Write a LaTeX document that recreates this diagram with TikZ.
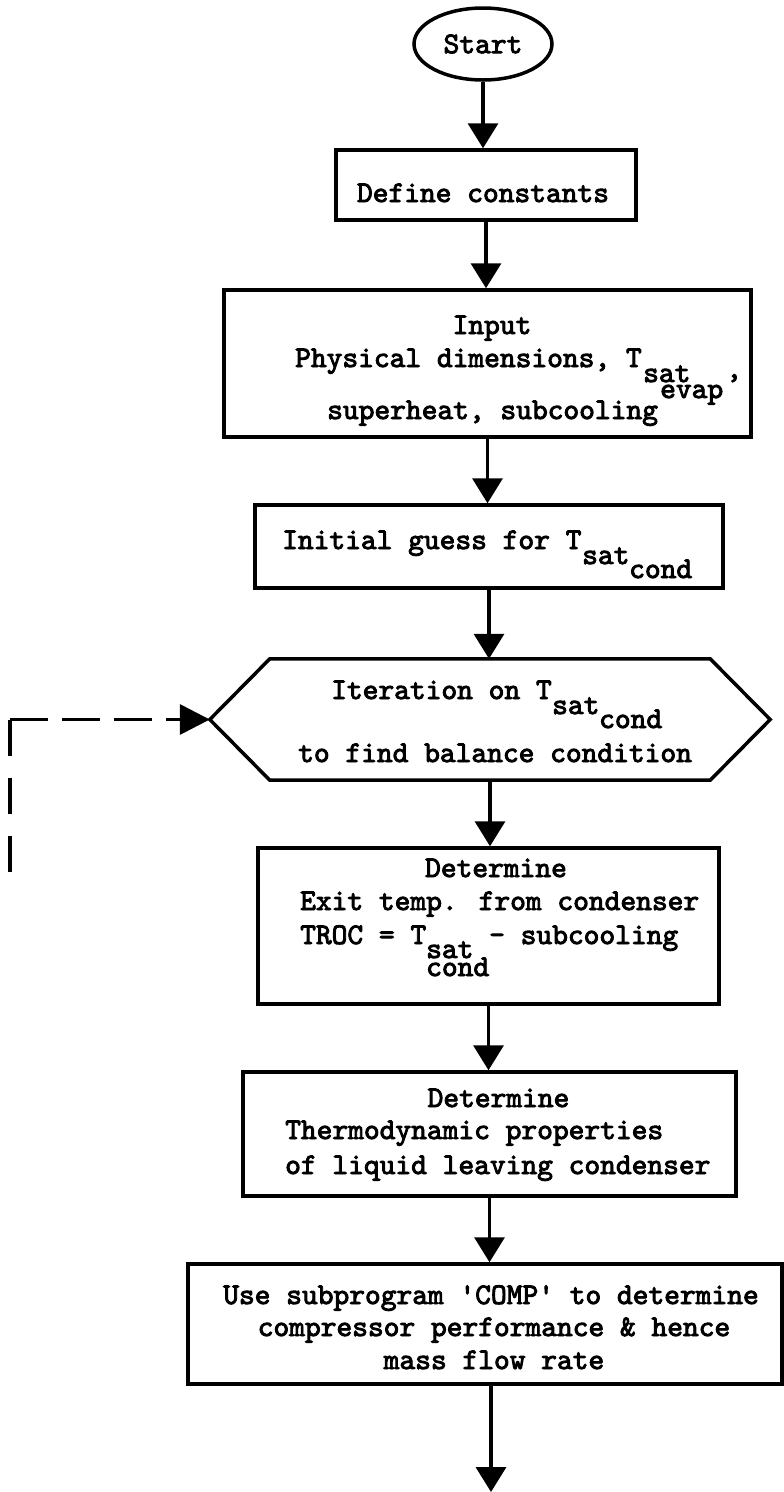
\documentclass[tikz,border=0pt]{standalone}
\usepackage{fontspec}
\newfontfamily\typer{lmmono10-regular}[Extension=.otf, FakeBold=3]
\usetikzlibrary{arrows.meta,shapes.geometric}
\begin{document}
\begin{tikzpicture}[x=1pt,y=-1pt,
  font=\typer\fontsize{30}{36}\selectfont,
  box/.style={draw, line width=3.5pt, rectangle, inner sep=0pt},
  txt/.style={anchor=base west, inner sep=0pt},
  ctxt/.style={anchor=base, inner sep=0pt},
  flow/.style={line width=3.5pt, -{Triangle[width=30pt,length=25pt]}},
  backh/.style={line width=3.5pt, dash pattern=on 38pt off 14pt,
               -{Triangle[width=30pt,length=30pt]}},
  backv/.style={line width=3.5pt, dash pattern=on 36pt off 22pt}]
\useasboundingbox (0,0) rectangle (784,1492);

% terminal
\node[draw, ellipse, line width=3.5pt, minimum width=138pt, minimum height=72pt,
      inner sep=0pt] (start) at (483,44) {Start};

% process boxes
\node[box, minimum width=300pt, minimum height=70pt]  (define)  at (486,185)   {};
\node[box, minimum width=527pt, minimum height=147pt] (input)   at (487.5,363.5) {};
\node[box, minimum width=468pt, minimum height=83pt]  (initial) at (489,546.5) {};
\node[minimum width=560pt, minimum height=121pt, inner sep=0pt] (iter) at (490,719.5) {};
\draw[line width=3.5pt, line join=miter]
  (iter.west) -- ([xshift=60pt]iter.north west) -- ([xshift=-60pt]iter.north east)
  -- (iter.east) -- ([xshift=-60pt]iter.south east) -- ([xshift=60pt]iter.south west)
  -- cycle;
\node[box, minimum width=461pt, minimum height=156pt] (det1) at (488.5,926)  {};
\node[box, minimum width=493pt, minimum height=124pt] (det2) at (489.5,1134) {};
\node[box, minimum width=594pt, minimum height=120pt] (comp) at (485,1324)   {};

% texts
\node[ctxt] (tdef) at (483,202) {Define constants};

\node[ctxt] (tin1) at (492,334) {Input};
\node[txt]  (tin2) at (295,367) {Physical dimensions, T};
\node[txt]  (tin3) at (643,382) {sat};
\node[txt]  (tin4) at (660,398) {evap};
\node[txt]  (tin5) at (726,378) {,};
\node[txt]  (tin6) at (327,419) {superheat, subcooling};

\node[txt] (tig1) at (282,549) {Initial guess for T};
\node[txt] (tig2) at (582,564) {sat};
\node[txt] (tig3) at (629,578) {cond};

\node[txt] (tit1) at (331,699) {Iteration on T};
\node[txt] (tit2) at (552,714) {sat};
\node[txt] (tit3) at (599,728) {cond};
\node[txt] (tit4) at (298,762) {to find balance condition};

\node[ctxt] (td1a) at (496,877) {Determine};
\node[txt]  (td1b) at (300,910) {Exit temp. from condenser};
\node[txt]  (td1c) at (300,944) {TROC = T\ \ \ \ - subcooling};
\node[txt]  (td1d) at (426,958) {sat};
\node[txt]  (td1e) at (426,976) {cond};

\node[ctxt] (td2a) at (498.5,1107) {Determine};
\node[txt]  (td2b) at (285,1139) {Thermodynamic properties};
\node[txt]  (td2c) at (285,1174) {of liquid leaving condenser};

\node[ctxt] (tc1) at (491,1304) {Use subprogram \textquotesingle COMP\textquotesingle\ to determine};
\node[ctxt] (tc2) at (494,1336) {compressor performance \& hence};
\node[ctxt] (tc3) at (494,1369) {mass flow rate};

% connectors
\draw[flow] (start.south)   -- (start.south |- define.north);
\draw[flow] (define.south)  -- (define.south |- input.north);
\draw[flow] (input.south)   -- (input.south |- initial.north);
\draw[flow] (initial.south) -- (initial.south |- iter.north);
\draw[flow] (iter.south)    -- (iter.south |- det1.north);
\draw[flow] (det1.south)    -- (det1.south |- det2.north);
\draw[flow] (det2.south)    -- (det2.south |- comp.north);
\coordinate (out) at (491,1492);
\draw[flow] (comp.south -| out) -- (out);

% return path of the iteration loop, dashed from its corner both ways
\coordinate (loopend) at (10,874);
\coordinate (corner) at (iter.west -| loopend);
\draw[backv] (corner) -- (loopend);
\draw[backh] (corner) -- (iter.west);
\end{tikzpicture}
\end{document}
